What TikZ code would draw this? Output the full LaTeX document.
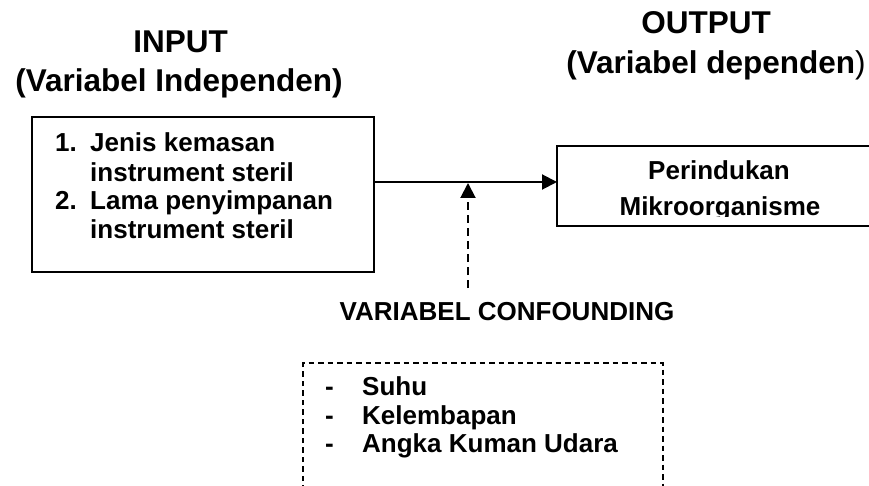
\documentclass[tikz,border=0pt]{standalone}
\usepackage{fontspec}
\setmainfont{Liberation Sans}
\usetikzlibrary{arrows.meta}
\begin{document}
\begin{tikzpicture}[x=1pt,y=-1pt,
  title/.style={anchor=base, inner sep=0pt, font=\bfseries\fontsize{31.5}{36}\selectfont},
  txt/.style={anchor=base west, inner sep=0pt, font=\bfseries\fontsize{26}{30}\selectfont},
  ctxt/.style={anchor=base, inner sep=0pt, font=\bfseries\fontsize{26}{30}\selectfont},
  solidbox/.style={draw, line width=2pt},
  dashbox/.style={draw, line width=1.8pt, dash pattern=on 5.5pt off 4pt},
  conn/.style={line width=2pt, -{Triangle[length=15pt,width=15pt]}},
  dconn/.style={line width=2pt, dash pattern=on 8pt off 5pt, -{Triangle[length=15pt,width=15pt]}}]
\useasboundingbox (0,0) rectangle (869,486);
\clip (0,0) rectangle (869,486);
% titles
\node[title] (inT) at (180.5,53) {INPUT};
\node[title] (inS) at (179,92) {(Variabel Independen)};
\node[title] (outT) at (706,34) {OUTPUT};
\node[title] (outS) at (716,74) {(Variabel dependen{\mdseries )}};
% input box
\draw[solidbox] (32,117) rectangle (374,272);
\coordinate (inR) at (374,182);
\node[txt] (n1) at (55,152) {1.};
\node[txt] (t1a) at (90,152) {Jenis kemasan};
\node[txt] (t1b) at (90,182) {instrument steril};
\node[txt] (n2) at (55,210) {2.};
\node[txt] (t2a) at (90,210) {Lama penyimpanan};
\node[txt] (t2b) at (90,238) {instrument steril};
% output box
\draw[solidbox] (557,146) rectangle (885,226);
\coordinate (outL) at (557,182);
\node[ctxt] (o1) at (719,180) {Perindukan};
\begin{scope}
\clip (540,150) rectangle (869,216.5);
\node[ctxt] (o2) at (720,215) {Mikroorganisme};
\end{scope}
% main arrow
\draw[conn] (inR) -- (outL);
% confounding arrow
\coordinate (cbot) at (468,288);
\coordinate (ctop) at (468,183);
\draw[dconn] (cbot) -- (ctop);
\node[ctxt] (conf) at (507,320) {VARIABEL CONFOUNDING};
% confounding box
\draw[dashbox] (303,500) -- (303,363) -- (663,363) -- (663,500);
\node[txt] (d1) at (325,395) {-};
\node[txt] (c1) at (362,395) {Suhu};
\node[txt] (d2) at (325,424) {-};
\node[txt] (c2) at (362,424) {Kelembapan};
\node[txt] (d3) at (325,452) {-};
\node[txt] (c3) at (362,452) {Angka Kuman Udara};
\end{tikzpicture}
\end{document}
